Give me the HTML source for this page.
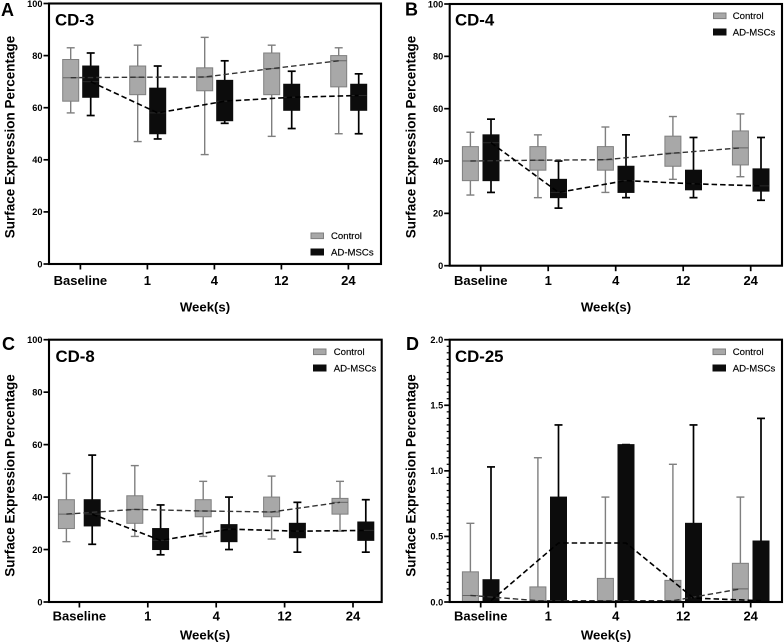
<!DOCTYPE html>
<html lang="en">
<head>
<meta charset="utf-8">
<title>Surface expression by week</title>
<style>
html,body{margin:0;padding:0;background:#fff;}
svg{display:block;filter:blur(0.3px);}
text{font-family:"Liberation Sans",sans-serif;fill:#000;}
.b{font-weight:bold;}
.letter{font-size:18px;font-weight:bold;}
.title{font-size:16.8px;font-weight:bold;}
.axt{font-size:13.5px;font-weight:bold;text-anchor:middle;}
.xt{font-size:13.2px;font-weight:bold;text-anchor:middle;}
.leg{font-size:9.6px;stroke:#000;stroke-width:0.15px;}
.sc{fill:#a8a8a8;stroke:#7f7f7f;stroke-width:1;}
.sa{fill:#0c0c0c;stroke:#0c0c0c;stroke-width:1;}
</style>
</head>
<body>
<svg id="fig" xmlns="http://www.w3.org/2000/svg" width="784" height="643" viewBox="0 0 784 643">
  <rect x="0" y="0" width="784" height="643" fill="#fff"/>

  <g id="panel-a">
    <g class="marks"></g>
    <text class="letter" x="1" y="16">A</text>
    <text class="title" x="55" y="25.5">CD-3</text>
    <text class="axt" transform="translate(14.5,137) rotate(-90)">Surface Expression Percentage</text>
    <text class="xt" x="205" y="311.5">Week(s)</text>
    <g>
      <rect class="sc" x="311" y="233" width="12.5" height="5.6"/>
      <text class="leg" x="331" y="239">Control</text>
      <rect class="sa" x="311" y="249" width="12.5" height="6"/>
      <text class="leg" x="331" y="255.5">AD-MSCs</text>
    </g>
  </g>

  <g id="panel-b">
    <g class="marks"></g>
    <text class="letter" x="405" y="15.5">B</text>
    <text class="title" x="455" y="25.5">CD-4</text>
    <text class="axt" transform="translate(415.5,137) rotate(-90)">Surface Expression Percentage</text>
    <text class="xt" x="606" y="311.5">Week(s)</text>
    <g>
      <rect class="sc" x="713.5" y="13" width="12.5" height="5.6"/>
      <text class="leg" x="732.7" y="19">Control</text>
      <rect class="sa" x="713.5" y="29" width="12.5" height="6"/>
      <text class="leg" x="732.7" y="35.3">AD-MSCs</text>
    </g>
  </g>

  <g id="panel-c">
    <g class="marks"></g>
    <text class="letter" x="2" y="350">C</text>
    <text class="title" x="55.5" y="362">CD-8</text>
    <text class="axt" transform="translate(14.5,475.5) rotate(-90)">Surface Expression Percentage</text>
    <text class="xt" x="205" y="639.5">Week(s)</text>
    <g>
      <rect class="sc" x="313.5" y="349" width="12.5" height="5.6"/>
      <text class="leg" x="333.7" y="355">Control</text>
      <rect class="sa" x="313.5" y="365" width="12.5" height="6"/>
      <text class="leg" x="333.7" y="371.3">AD-MSCs</text>
    </g>
  </g>

  <g id="panel-d">
    <g class="marks"></g>
    <text class="letter" x="406" y="350">D</text>
    <text class="title" x="455" y="362">CD-25</text>
    <text class="axt" transform="translate(415.5,475.5) rotate(-90)">Surface Expression Percentage</text>
    <text class="xt" x="606" y="639.5">Week(s)</text>
    <g>
      <rect class="sc" x="713" y="349" width="12.5" height="5.6"/>
      <text class="leg" x="732.7" y="355">Control</text>
      <rect class="sa" x="713" y="365" width="12.5" height="6"/>
      <text class="leg" x="732.7" y="371.3">AD-MSCs</text>
    </g>
  </g>
</svg>

<script>
const weekLabels = ['Baseline', '1', '4', '12', '24'];
const percentTicks = [0, 20, 40, 60, 80, 100];
const cd25Ticks = [0, 0.5, 1, 1.5, 2];
const cd25TickLabels = ['0.0', '0.5', '1.0', '1.5', '2.0'];
const cd25MinorTicks = [0.05, 0.1, 0.15, 0.2, 0.25, 0.3, 0.35, 0.4, 0.45, 0.55, 0.6, 0.65, 0.7, 0.75, 0.8, 0.85, 0.9, 0.95, 1.05, 1.1, 1.15, 1.2, 1.25, 1.3, 1.35, 1.4, 1.45, 1.55, 1.6, 1.65, 1.7, 1.75, 1.8, 1.85, 1.9, 1.95];

const cd3ControlLow = [58, 47, 42, 49, 50];
const cd3ControlQ1 = [62.5, 65, 66.5, 65, 68];
const cd3ControlMedian = [71.5, 71.7, 71.8, 75, 78];
const cd3ControlQ3 = [78.5, 76, 75.3, 81, 80];
const cd3ControlHigh = [83, 84, 87, 84, 83];
const cd3AdLow = [57, 48, 54, 52, 50];
const cd3AdQ1 = [64, 50, 55, 59, 59];
const cd3AdMedian = [70, 58, 62.5, 64, 64.7];
const cd3AdQ3 = [76, 67.5, 70.5, 69, 69];
const cd3AdHigh = [81, 76, 78, 74, 73];

const cd4ControlLow = [27, 26, 28, 33, 34];
const cd4ControlQ1 = [32.5, 36.5, 36.5, 38, 38.5];
const cd4ControlMedian = [40, 40.3, 40.5, 43, 45];
const cd4ControlQ3 = [45.5, 45.5, 45.5, 49.5, 51.5];
const cd4ControlHigh = [51, 50, 53, 57, 58];
const cd4AdLow = [28, 22, 26, 26, 25];
const cd4AdQ1 = [32.5, 26, 28, 29, 28.5];
const cd4AdMedian = [47, 28, 32.5, 31.3, 30.5];
const cd4AdQ3 = [50, 33, 38, 36.5, 37];
const cd4AdHigh = [56, 40, 50, 49, 49];

const cd8ControlLow = [23, 25, 25, 24, 27];
const cd8ControlQ1 = [28, 30, 32.5, 32.5, 33.5];
const cd8ControlMedian = [33.5, 35.3, 34.7, 34.3, 38];
const cd8ControlQ3 = [39, 40.5, 39, 40, 39.5];
const cd8ControlHigh = [49, 52, 46, 48, 46];
const cd8AdLow = [22, 18, 20, 19, 19];
const cd8AdQ1 = [29, 20, 23, 24.5, 23.5];
const cd8AdMedian = [33.5, 23.5, 27.8, 27, 27.3];
const cd8AdQ3 = [39, 28, 29.5, 30, 30.5];
const cd8AdHigh = [56, 37, 40, 38, 39];

const cd25ControlTop = [0.23, 0.115, 0.18, 0.165, 0.295];
const cd25ControlMedian = [0.05, 0.01, 0.01, 0.01, 0.1];
const cd25ControlHigh = [0.6, 1.1, 0.8, 1.05, 0.8];
const cd25AdTop = [0.17, 0.8, 1.2, 0.6, 0.465];
const cd25AdMedian = [0.01, 0.45, 0.45, 0.03, 0.01];
const cd25AdHigh = [1.03, 1.35, 1.2, 1.35, 1.4];

const NS = 'http://www.w3.org/2000/svg';
const GREY = '#7f7f7f';
const BLACK = '#000';

function shape(parent, tag, props) {
  const el = document.createElementNS(NS, tag);
  for (const k in props) el.setAttribute(k, props[k]);
  parent.appendChild(el);
  return el;
}

function line(parent, name, x1, y1, x2, y2, stroke, width) {
  const el = shape(parent, 'line', {x1: x1, y1: y1, x2: x2, y2: y2, stroke: stroke, 'stroke-width': width});
  
  
  return el;
}

function label(parent, name, x, y, str, size, anchor) {
  const el = shape(parent, 'text', {x: x, y: y, 'font-size': size, 'font-weight': 'bold', 'text-anchor': anchor});
  el.textContent = str;
  
  
  return el;
}

function drawAxes(g, geo, yTicks, yLabels, yMax, key) {
  const yOf = v => geo.bottom - v / yMax * (geo.bottom - geo.top);
  const xOf = i => geo.x0 + i * geo.dx;

  yTicks.forEach((v, i) => {
    line(g, key + '-y-tick', geo.left - 5.5, yOf(v), geo.left, yOf(v), BLACK, 1.7);
    label(g, key + '-y-tick-label', geo.left - 6.5, yOf(v) + 3.3, yLabels[i], 9.2, 'end');
  });
  weekLabels.forEach((w, i) => {
    line(g, key + '-x-tick', xOf(i), geo.bottom, xOf(i), geo.bottom + 5.5, BLACK, 1.7);
    label(g, key + '-x-tick-label', xOf(i), geo.labelY, w, 13, 'middle');
  });

  const frame = shape(g, 'rect', {
    x: geo.left, y: geo.top, width: geo.right - geo.left, height: geo.bottom - geo.top,
    fill: 'none', stroke: BLACK, 'stroke-width': 2.1
  });
  
  
}

function drawSeries(g, geo, yMax, key, seriesName, offset, fill, stroke, wWidth, low, q1, q3, high, median) {
  const yOf = v => geo.bottom - v / yMax * (geo.bottom - geo.top);
  const xOf = i => geo.x0 + i * geo.dx + offset;
  const half = 8;
  weekLabels.forEach((w, i) => {
    const cx = xOf(i);
    const lowVal = low ? low[i] : q1 ? q1[i] : 0;
    line(g, key + '-' + seriesName + '-whisker', cx, yOf(lowVal), cx, yOf(high[i]), stroke, wWidth);
    line(g, key + '-' + seriesName + '-whisker-cap', cx - 4, yOf(high[i]), cx + 4, yOf(high[i]), stroke, wWidth);
    if (low) line(g, key + '-' + seriesName + '-whisker-cap', cx - 4, yOf(low[i]), cx + 4, yOf(low[i]), stroke, wWidth);
    const base = q1 ? q1[i] : 0;
    const box = shape(g, 'rect', {
      x: cx - half, y: yOf(q3[i]), width: half * 2, height: yOf(base) - yOf(q3[i]),
      fill: fill, stroke: stroke === BLACK ? '#0c0c0c' : stroke, 'stroke-width': 1
    });
    
    
    if (q1) line(g, key + '-' + seriesName + '-median', cx - half, yOf(median[i]), cx + half, yOf(median[i]), stroke === BLACK ? '#2a2a2a' : '#666', 1);
  });
}

function drawTrend(g, geo, yMax, key, seriesName, offset, values, stroke, width) {
  const yOf = v => geo.bottom - v / yMax * (geo.bottom - geo.top);
  const xOf = i => geo.x0 + i * geo.dx + offset;
  const pts = values.map((v, i) => xOf(i).toFixed(1) + ',' + yOf(v).toFixed(1)).join(' ');
  const el = shape(g, 'polyline', {points: pts, fill: 'none', stroke: stroke, 'stroke-width': width, 'stroke-dasharray': '5.5 3'});
  
  
}

function marksOf(id) {
  return document.querySelector('#' + id + ' .marks');
}

function boxPanel(id, key, geo, c, a) {
  const g = marksOf(id);
  const labels = percentTicks.map(String);
  drawSeries(g, geo, 100, key, 'control', geo.off1, '#a8a8a8', GREY, 1.4, c[0], c[1], c[3], c[4], c[2]);
  drawSeries(g, geo, 100, key, 'ad-mscs', geo.off2, '#0c0c0c', BLACK, 1.7, a[0], a[1], a[3], a[4], a[2]);
  drawTrend(g, geo, 100, key, 'control', geo.off1, c[2], '#333', 1.4);
  drawTrend(g, geo, 100, key, 'ad-mscs', geo.off2, a[2], BLACK, 1.6);
  drawAxes(g, geo, percentTicks, labels, 100, key);
}

const geoA = {left: 49, right: 381, top: 3.5, bottom: 264, x0: 80.4, dx: 67, off1: -9.7, off2: 10.3, labelY: 285};
const geoB = {left: 449.7, right: 782, top: 4, bottom: 265.7, x0: 480.7, dx: 67.5, off1: -10.3, off2: 10.3, labelY: 285};
const geoC = {left: 49, right: 381.7, top: 339.7, bottom: 602, x0: 79.4, dx: 68.4, off1: -13, off2: 12.8, labelY: 620.3};
const geoD = {left: 449.7, right: 782, top: 339.7, bottom: 602, x0: 480.7, dx: 67.5, off1: -10.3, off2: 10.3, labelY: 620.3};

boxPanel('panel-a', 'cd3', geoA,
  [cd3ControlLow, cd3ControlQ1, cd3ControlMedian, cd3ControlQ3, cd3ControlHigh],
  [cd3AdLow, cd3AdQ1, cd3AdMedian, cd3AdQ3, cd3AdHigh]);
boxPanel('panel-b', 'cd4', geoB,
  [cd4ControlLow, cd4ControlQ1, cd4ControlMedian, cd4ControlQ3, cd4ControlHigh],
  [cd4AdLow, cd4AdQ1, cd4AdMedian, cd4AdQ3, cd4AdHigh]);
boxPanel('panel-c', 'cd8', geoC,
  [cd8ControlLow, cd8ControlQ1, cd8ControlMedian, cd8ControlQ3, cd8ControlHigh],
  [cd8AdLow, cd8AdQ1, cd8AdMedian, cd8AdQ3, cd8AdHigh]);

(function () {
  const g = marksOf('panel-d');
  const yOf = v => geoD.bottom - v / 2 * (geoD.bottom - geoD.top);
  drawSeries(g, geoD, 2, 'cd25', 'control', geoD.off1, '#a8a8a8', GREY, 1.4, null, null, cd25ControlTop, cd25ControlHigh, null);
  drawSeries(g, geoD, 2, 'cd25', 'ad-mscs', geoD.off2, '#0c0c0c', BLACK, 1.7, null, null, cd25AdTop, cd25AdHigh, null);
  cd25ControlMedian.forEach((v, i) => {
    const cx = geoD.x0 + i * geoD.dx + geoD.off1;
    line(g, 'cd25-control-median', cx - 8, yOf(v), cx + 8, yOf(v), '#666', 1);
  });
  drawTrend(g, geoD, 2, 'cd25', 'control', geoD.off1, cd25ControlMedian, '#333', 1.4);
  drawTrend(g, geoD, 2, 'cd25', 'ad-mscs', geoD.off2, cd25AdMedian, BLACK, 1.6);
  cd25MinorTicks.forEach(v => {
    line(g, 'cd25-y-minor-tick', geoD.left - 3, yOf(v), geoD.left, yOf(v), BLACK, 1.2);
  });
  drawAxes(g, geoD, cd25Ticks, cd25TickLabels, 2, 'cd25');
})();
</script>
</body>
</html>
